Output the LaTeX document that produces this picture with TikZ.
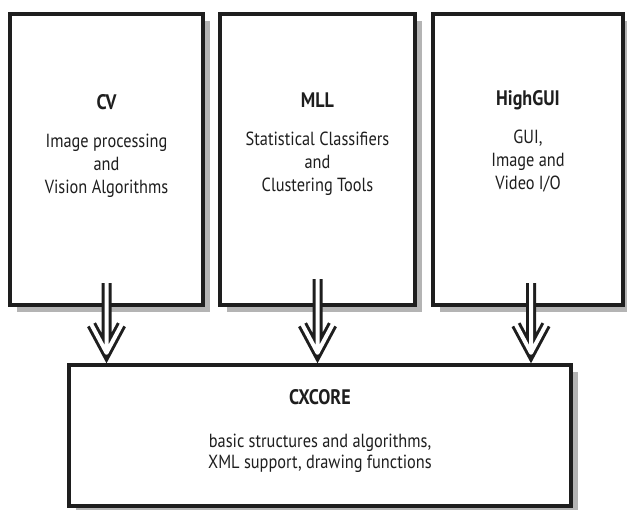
\documentclass[tikz,border=0pt]{standalone}
\usepackage{fontspec}
\setmainfont[FakeStretch=0.86]{PT Sans}
\usetikzlibrary{shadows}
\definecolor{ocvink}{HTML}{1E1E1E}
\definecolor{ocvshade}{HTML}{B4B4B4}

\begin{document}
\begin{tikzpicture}[
  x=1pt, y=-1pt,
  module/.style={draw=ocvink, line width=4.5pt, fill=white, inner sep=0pt,
    drop shadow={shadow xshift=7pt, shadow yshift=-7pt, fill=ocvshade, opacity=1}},
  modtext/.style={anchor=north, inner sep=0pt, align=center, text=ocvink,
    font=\fontsize{19}{23}\selectfont},
  hollow/.style={draw=white, line width=4pt, line cap=round, line join=round,
    preaction={draw=ocvink, line width=10pt}}
]
\useasboundingbox (0,0) rectangle (627,510);

% Three library modules on top
\node[module, minimum width=193pt, minimum height=291pt] (cv)  at (106.5,159.5) {};
\node[module, minimum width=195pt, minimum height=291pt] (mll) at (317.5,159.5) {};
\node[module, minimum width=190pt, minimum height=291pt] (gui) at (528,159.5) {};

% Core module underneath
\node[module, minimum width=502pt, minimum height=141pt] (core) at (320,435.5) {};

% Texts
\node[modtext] (cvtext)  at ([yshift=-83pt]cv.north)
  {{\fontsize{21}{22}\selectfont\bfseries CV}\\[15pt]Image processing\\and\\Vision Algorithms};
\node[modtext] (mlltext) at ([yshift=-81pt]mll.north)
  {{\fontsize{21}{22}\selectfont\bfseries MLL}\\[15pt]Statistical Classifiers\\and\\Clustering Tools};
\node[modtext] (guitext) at ([yshift=-79pt]gui.north)
  {{\fontsize{21}{22}\selectfont\bfseries HighGUI}\\[15pt]GUI,\\Image and\\Video I/O};
\node[modtext, font=\fontsize{19}{21}\selectfont] (coretext) at ([yshift=-27pt]core.north)
  {{\fontsize{21}{22}\selectfont\bfseries CXCORE}\\[22pt]basic structures and algorithms,\\XML support, drawing functions};

% Hollow arrows down into the core
\draw[hollow] ([yshift=24pt]cv.south) -- ([yshift=10pt]cv.south |- core.north) coordinate (cvtip)
  ++(-15,-28) -- (cvtip) -- ++(15,-28);
\draw[hollow] ([yshift=28pt]mll.south) -- ([yshift=10pt]mll.south |- core.north) coordinate (mlltip)
  ++(-15,-28) -- (mlltip) -- ++(15,-28);
\draw[hollow] ([xshift=3pt, yshift=24pt]gui.south) -- ([xshift=3pt, yshift=10pt]gui.south |- core.north) coordinate (guitip)
  ++(-15,-28) -- (guitip) -- ++(15,-28);

\end{tikzpicture}
\end{document}
